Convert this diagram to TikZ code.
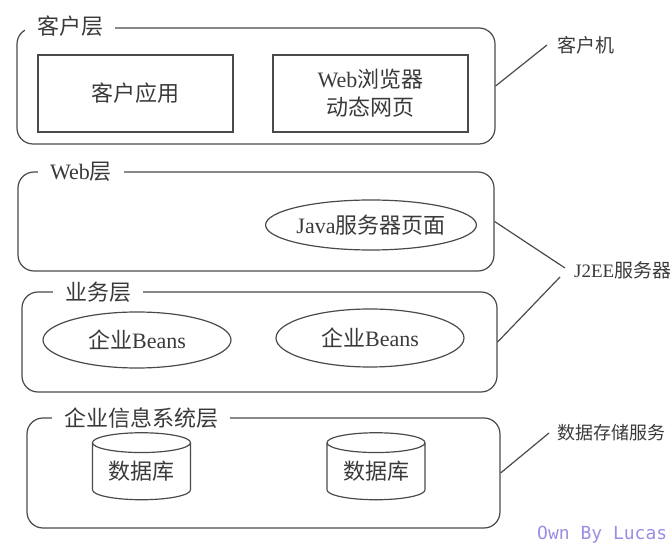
\documentclass[tikz,border=0pt]{standalone}
\usepackage{fontspec}
\setmainfont{Noto Sans CJK SC}
\newfontfamily\latfont{Liberation Serif}
\newfontfamily\lucasfont{DejaVu Sans Mono}
\usepackage{tikz}
\usetikzlibrary{positioning,shapes.geometric}
\usepackage{xcolor}
\definecolor{TierLine}{HTML}{4A4A4A}
\definecolor{TierText}{HTML}{3A3A3A}
\definecolor{LucasPurple}{HTML}{9C8CE4}
\newcommand{\lat}[1]{{\latfont #1}}

\begin{document}
\begin{tikzpicture}[
    x=1pt, y=-1pt,
    layer/.style={draw=TierLine, line width=1.2pt, rounded corners=16pt,
                  inner sep=0pt},
    ltitle/.style={fill=white, anchor=west, inner xsep=12pt, inner ysep=1pt,
                   text=TierText, font=\fontsize{22}{26}\selectfont},
    comp/.style={draw=TierLine, line width=1.2pt, inner sep=0pt,
                 align=center, text=TierText,
                 font=\fontsize{22}{28}\selectfont},
    oval/.style={comp, ellipse},
    dbase/.style={comp, cylinder, shape border rotate=90, aspect=0.3},
    side/.style={anchor=west, inner sep=0pt, text=TierText,
                 font=\fontsize{19}{22}\selectfont},
    link/.style={draw=TierLine, line width=1.2pt},
  ]
    \useasboundingbox (0,0) rectangle (670,545);

    % ── Tier frames with their titles ───────────────────────────────────
    \node[layer, minimum width=478, minimum height=116] (client) at (256,86) {};
    \node[ltitle] (tclient) at (25,26) {客户层};
    \node[layer, minimum width=476, minimum height=99] (web) at (256,221.5) {};
    \node[ltitle] (tweb) at (38,172) {\lat{Web}层};
    \node[layer, minimum width=475, minimum height=100] (biz) at (259.5,342) {};
    \node[ltitle] (tbiz) at (53,292) {业务层};
    \node[layer, minimum width=473, minimum height=110] (eis) at (263.5,473) {};
    \node[ltitle] (teis) at (52,418) {企业信息系统层};

    % ── Components inside the tiers ─────────────────────────────────────
    \node[comp, minimum width=195, minimum height=77] (app) at (135.5,93.5) {客户应用};
    \node[comp, minimum width=195, minimum height=77] (browser) at (370.5,93.5)
      {\lat{Web}浏览器\\动态网页};
    \node[oval, minimum width=187, minimum height=50] (jsp) at (371,225)
      {\lat{Java}服务器页面};
    \node[oval, minimum width=188, minimum height=56] (ejb1) at (137,340)
      {企业\lat{Beans}};
    \node[oval, minimum width=188, minimum height=58] (ejb2) at (370,338)
      {企业\lat{Beans}};
    \node[dbase, minimum width=98, minimum height=67] (db1) at (141.5,471.5) {数据库};
    \node[dbase, minimum width=98, minimum height=67] (db2) at (376,471.5) {数据库};

    % ── Side labels ─────────────────────────────────────────────────────
    \node[side] (kehuji) at (557,45) {客户机};
    \node[side] (j2ee) at (574,270) {\lat{J2EE}服务器};
    \node[side, font=\fontsize{18}{22}\selectfont] (store) at (557,433) {数据存储服务};
    \node[anchor=west, inner sep=0pt, text=LucasPurple,
          font=\lucasfont\fontsize{18}{20}\selectfont] (lucas) at (537,535)
      {Own By Lucas};

    % ── Leader lines ────────────────────────────────────────────────────
    \draw[link] (client.east) -- ([shift={(-10,0)}]kehuji.west);
    \draw[link] (web.east) -- ([shift={(-9,-2)}]j2ee.west);
    \draw[link] (biz.east) -- ([shift={(-14,7)}]j2ee.west);
    \draw[link] (eis.east) -- ([shift={(-8,0)}]store.west);
  \end{tikzpicture}
\end{document}
